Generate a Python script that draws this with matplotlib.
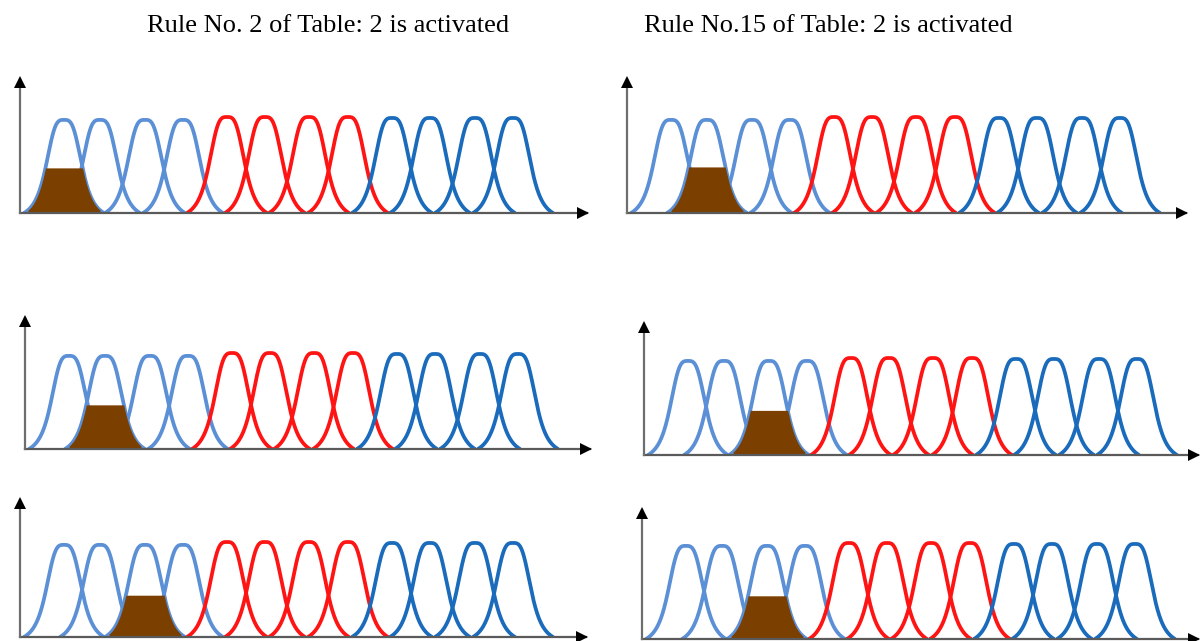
import numpy as np
import matplotlib
matplotlib.use("Agg")
import matplotlib.pyplot as plt

# ---------------- data ----------------
titles = ["Rule No. 2 of Table: 2 is activated", "Rule No.15 of Table: 2 is activated"]
# membership-function centres (x units measured from the y axis)
centers = [44, 80, 125, 163, 207, 245, 289, 328, 372, 410, 455, 493]
peaks = [0.97, 0.97, 0.97, 0.97, 1.0, 1.0, 1.0, 1.0, 0.99, 0.99, 0.99, 0.99]
groups = ["light", "light", "light", "light", "red", "red", "red", "red",
          "dark", "dark", "dark", "dark"]
# bell shape: half-height half-width, slope exponent, support half-width
bell_a = 19.0
bell_b = 1.7
support = 40.0
# activated function index and firing level per panel (TL, ML, BL, TR, MR, BR)
active_index = [0, 1, 2, 1, 2, 2]
active_level = [0.47, 0.46, 0.44, 0.48, 0.46, 0.45]

# ---------------- styles / layout ----------------
colors = {"light": "#5b8fd6", "red": "#ff1414", "dark": "#1a6bbb"}
fill_color = "#7b3f00"
W, H = 1203, 641
# panel pixel geometry: x0 (y axis), baseline, x tip, y tip, peak y
panels = [
    (20, 213, 587, 79, 117),
    (25, 449, 590, 318, 353),
    (20, 637, 586, 500, 542),
    (627, 213, 1186, 79, 117),
    (644, 455, 1198, 324, 358),
    (642, 639, 1198, 510, 543),
]

fig = plt.figure(figsize=(W / 100, H / 100), dpi=100)
fig.patch.set_facecolor("white")

xs = np.linspace(0, 560, 3000)


def bell(x, c, p):
    d = np.abs(x - c)
    f = 1.0 / (1.0 + (d / bell_a) ** (2 * bell_b))
    f0 = 1.0 / (1.0 + (support / bell_a) ** (2 * bell_b))
    y = (f - f0) / (1 - f0) * p
    return np.where(d < support, y, 0.0)


for k, (x0, base, xt, yt, pk) in enumerate(panels):
    left = x0 / W
    bottom = 1 - base / H
    width = (xt - x0) / W
    height = (base - yt) / H
    ax = fig.add_axes([left, bottom, width, height])
    ax.set_xlim(0, xt - x0)
    ymax = (base - yt) / (base - pk)
    ax.set_ylim(0, ymax)
    ax.axis("off")

    for c, p, g in zip(centers, peaks, groups):
        sel = np.abs(xs - c) <= support
        ax.plot(xs[sel], bell(xs[sel], c, p), color=colors[g], lw=2.7,
                solid_capstyle="round", zorder=2)

    # activated (clipped) region, drawn over the curves
    ai = active_index[k]
    yb = bell(xs, centers[ai], peaks[ai])
    clip = np.minimum(yb, active_level[k])
    ax.fill_between(xs, 0, clip, where=yb > 0.03, color=fill_color, lw=0, zorder=3)

    # axes with arrows
    ax.plot([0, xt - x0], [0, 0], color="#5a5a5a", lw=1.6, clip_on=False, zorder=4)
    ax.plot([0, 0], [0, ymax], color="#6e6e6e", lw=1.6, clip_on=False, zorder=4)
    ax.plot([xt - x0 - 4], [0], marker=">", color="black", ms=8, clip_on=False, zorder=5,
            markeredgewidth=0)
    ax.plot([0], [ymax - 0.03], marker="^", color="black", ms=8, clip_on=False, zorder=5,
            markeredgewidth=0)

fig.text(328 / W, 1 - 32 / H, titles[0], ha="center", va="baseline",
         fontsize=19, family="Liberation Serif", color="black")
fig.text(828 / W, 1 - 32 / H, titles[1], ha="center", va="baseline",
         fontsize=19, family="Liberation Serif", color="black")

fig.savefig("out.png", dpi=100, facecolor="white")
